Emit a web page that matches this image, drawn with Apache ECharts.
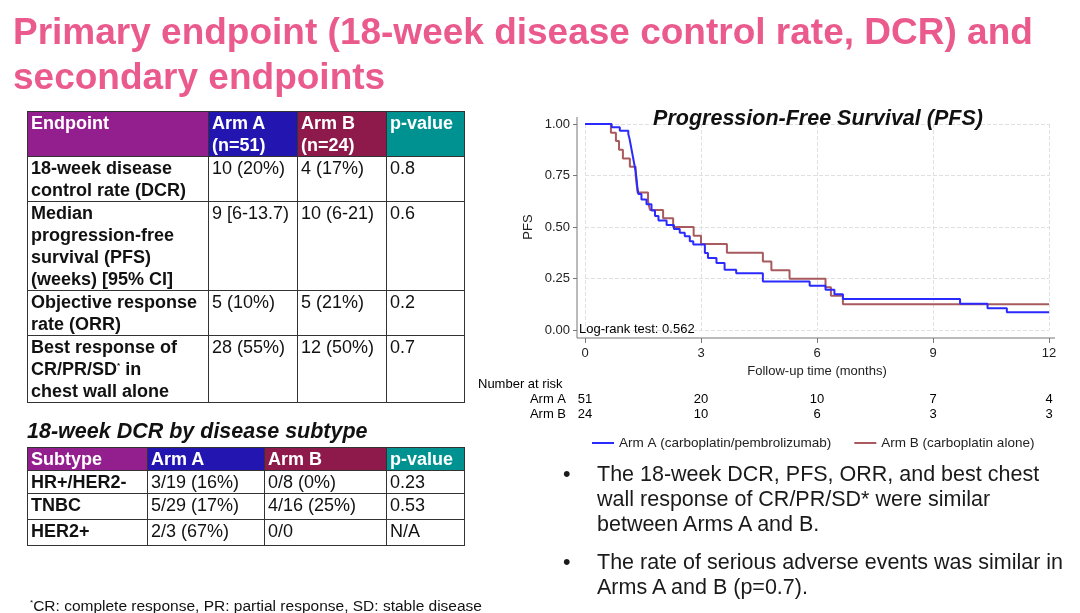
<!DOCTYPE html>
<html>
<head>
<meta charset="utf-8">
<script src="https://cdn.jsdelivr.net/npm/echarts@6/dist/echarts.min.js"></script>
<style>
  html, body { margin: 0; padding: 0; background: #fff; }
  body { width: 1080px; height: 613px; position: relative; overflow: hidden; font-family: "Liberation Sans", Arial, sans-serif; }
  #chart { position: absolute; left: 0; top: 0; width: 1080px; height: 613px; }
  .title { position: absolute; left: 13px; top: 9px; color: #ea5a8c; font-weight: bold; font-size: 37px; line-height: 45px; }
  table { position: absolute; border-collapse: collapse; font-size: 18px; line-height: 22px; color: #111; }
  td { border: 1.5px solid #333; vertical-align: top; padding: 0 3px; }
  th { text-align: left; vertical-align: top; color: #fff; padding: 0 3px; font-weight: bold; border: 1.5px solid #333; }
  .b { font-weight: bold; }
  .c1 { background: #931f8e; }
  .c2 { background: #2316b0; }
  .c3 { background: #8e1a4c; }
  .c4 { background: #009290; }
  .sub { position: absolute; left: 27px; top: 419px; font-size: 21.5px; font-weight: bold; font-style: italic; color: #111; }
  .foot { position: absolute; left: 30px; top: 597px; font-size: 15.5px; color: #111; }
  .bul { position: absolute; left: 563px; font-size: 21.5px; line-height: 25px; color: #1a1a1a; }
  .bul span.dot { position: absolute; left: 0; }
  .bul div { margin-left: 34px; }
</style>
</head>
<body>
<div id="chart"></div>

<div class="title">Primary endpoint (18-week disease control rate, DCR) and<br>secondary endpoints</div>

<table style="left:27px; top:111px; width:438px;">
  <tr style="height:44px">
    <th class="c1" style="width:174px">Endpoint</th>
    <th class="c2" style="width:82px">Arm A<br>(n=51)</th>
    <th class="c3" style="width:82px">Arm B<br>(n=24)</th>
    <th class="c4">p-value</th>
  </tr>
  <tr style="height:44px">
    <td class="b">18-week disease<br>control rate (DCR)</td><td>10 (20%)</td><td>4 (17%)</td><td>0.8</td>
  </tr>
  <tr style="height:89px">
    <td class="b">Median<br>progression-free<br>survival (PFS)<br>(weeks) [95% CI]</td><td>9 [6-13.7)</td><td>10 (6-21)</td><td>0.6</td>
  </tr>
  <tr style="height:45px">
    <td class="b">Objective response<br>rate (ORR)</td><td>5 (10%)</td><td>5 (21%)</td><td>0.2</td>
  </tr>
  <tr style="height:67px">
    <td class="b">Best response of<br>CR/PR/SD<sup style="font-size:8px;line-height:0">*</sup> in<br>chest wall alone</td><td>28 (55%)</td><td>12 (50%)</td><td>0.7</td>
  </tr>
</table>

<div class="sub">18-week DCR by disease subtype</div>

<table style="left:27px; top:447px; width:438px;">
  <tr style="height:21px">
    <th class="c1" style="width:113px">Subtype</th>
    <th class="c2" style="width:110px">Arm A</th>
    <th class="c3" style="width:115px">Arm B</th>
    <th class="c4">p-value</th>
  </tr>
  <tr style="height:23px"><td class="b">HR+/HER2-</td><td>3/19 (16%)</td><td>0/8 (0%)</td><td>0.23</td></tr>
  <tr style="height:26px"><td class="b">TNBC</td><td>5/29 (17%)</td><td>4/16 (25%)</td><td>0.53</td></tr>
  <tr style="height:26px"><td class="b">HER2+</td><td>2/3 (67%)</td><td>0/0</td><td>N/A</td></tr>
</table>

<div class="foot"><sup style="font-size:8px">*</sup>CR: complete response, PR: partial response, SD: stable disease</div>

<div class="bul" style="top:462px;"><span class="dot">•</span><div>The 18-week DCR, PFS, ORR, and best chest<br>wall response of CR/PR/SD* were similar<br>between Arms A and B.</div></div>
<div class="bul" style="top:550px;"><span class="dot">•</span><div>The rate of serious adverse events was similar in<br>Arms A and B (p=0.7).</div></div>

<script>
// Kaplan-Meier steps: [months, survival after drop]
var armA = [[0,1],[0.69,0.984],[0.90,0.967],[1.12,0.951],[1.15,0.93],[1.17,0.91],[1.19,0.89],[1.21,0.87],
    [1.23,0.85],[1.25,0.83],[1.27,0.81],[1.29,0.79],[1.31,0.77],[1.33,0.74],[1.35,0.70],[1.38,0.66],
    [1.46,0.634],[1.59,0.61],[1.72,0.58],[1.81,0.553],[1.90,0.532],[2.11,0.51],[2.30,0.49],[2.45,0.472],
    [2.58,0.455],[2.71,0.431],[2.80,0.415],[3.10,0.374],[3.18,0.35],[3.40,0.325],[3.61,0.293],[3.91,0.276],
    [4.60,0.236],[5.81,0.215],[6.22,0.195],[6.45,0.174],[6.67,0.15],[9.70,0.127],[10.41,0.106],[10.91,0.086],[12,0.086]];
var armB = [[0,1],[0.67,0.958],[0.80,0.917],[0.88,0.875],[0.98,0.833],[1.16,0.792],[1.31,0.75],[1.36,0.667],
    [1.63,0.625],[1.68,0.583],[2.02,0.542],[2.28,0.50],[2.81,0.458],[3.00,0.417],[3.67,0.375],[4.60,0.333],
    [4.82,0.29],[5.29,0.249],[6.22,0.208],[6.36,0.166],[6.67,0.125],[12,0.125]];

var riskTimes = [0, 3, 6, 9, 12];
var riskA = [51, 20, 10, 7, 4];
var riskB = [24, 10, 6, 3, 3];

var nameA = 'Arm A (carboplatin/pembrolizumab)';
var nameB = 'Arm B (carboplatin alone)';

var dom = document.getElementById("chart");
var myChart = echarts.init(dom);
var txt = { fontFamily: 'Liberation Sans, Arial', fontSize: 13, color: '#222' };
var axisCol = '#777';
var option = {
    animation: false,
    title: {
        text: 'Progression-Free Survival (PFS)',
        left: 813, top: 103, textAlign: 'center',
        textStyle: { fontFamily: 'Liberation Sans, Arial', fontSize: 21.5, fontWeight: 'bold', fontStyle: 'italic', color: '#111' }
    },
    grid: { left: 585, top: 124, width: 464, height: 206 },
    xAxis: {
        type: 'value', min: 0, max: 12, interval: 3, offset: 8,
        name: 'Follow-up time (months)', nameLocation: 'middle', nameGap: 27,
        nameTextStyle: txt,
        axisLine: { show: false, onZero: false },
        axisTick: { show: true, length: 5, lineStyle: { color: axisCol } },
        axisLabel: Object.assign({ margin: 9 }, txt),
        splitLine: { show: true, lineStyle: { type: 'dashed', color: '#e0e0e0' } }
    },
    yAxis: {
        type: 'value', min: 0, max: 1, interval: 0.25, offset: 8,
        name: 'PFS', nameLocation: 'middle', nameGap: 42, nameRotate: 90,
        nameTextStyle: txt,
        axisLine: { show: false, onZero: false },
        axisTick: { show: true, length: 4, lineStyle: { color: axisCol } },
        axisLabel: Object.assign({ margin: 7, formatter: function (v) { return v.toFixed(2); } }, txt),
        splitLine: { show: true, lineStyle: { type: 'dashed', color: '#e0e0e0' } }
    },
    legend: {
        left: 587, top: 431, icon: 'rect', itemWidth: 22, itemHeight: 2, itemGap: 23,
        textStyle: Object.assign({}, txt, { fontSize: 13.5 }),
        data: [nameA, nameB]
    },
    series: [
        { name: nameB, type: 'line', step: 'end', symbol: 'none', data: armB, color: '#a85a5e', lineStyle: { width: 2 }, z: 2 },
        { name: nameA, type: 'line', step: 'end', symbol: 'none', data: armA, color: '#2a2aff', lineStyle: { width: 2 }, z: 3 }
    ]
};
if (option && typeof option === "object") {
    myChart.setOption(option, true);
}

// Stata-style axis frame (offset from the plot region), risk table, log-rank note
var p0 = myChart.convertToPixel({ gridIndex: 0 }, [0, 0]);
var p1 = myChart.convertToPixel({ gridIndex: 0 }, [12, 1]);
var ax = p0[0] - 8, ay = p0[1] + 8;
var g = [
    { type: 'line', shape: { x1: ax, y1: p1[1] - 7, x2: ax, y2: ay }, style: { stroke: axisCol, lineWidth: 1 } },
    { type: 'line', shape: { x1: ax, y1: ay, x2: p1[0] + 6, y2: ay }, style: { stroke: axisCol, lineWidth: 1 } },
    { type: 'text', left: 579, top: 323, style: Object.assign({ text: 'Log-rank test: 0.562' }, txt), z: 10 },
    { type: 'text', left: 478, top: 378, style: Object.assign({ text: 'Number at risk' }, txt) },
    { type: 'text', x: 566, y: 399, style: Object.assign({ text: 'Arm A', align: 'right', verticalAlign: 'middle' }, txt) },
    { type: 'text', x: 566, y: 414, style: Object.assign({ text: 'Arm B', align: 'right', verticalAlign: 'middle' }, txt) }
];
for (var i = 0; i < riskTimes.length; i++) {
    var px = myChart.convertToPixel({ xAxisIndex: 0 }, riskTimes[i]);
    g.push({ type: 'text', x: px, y: 399, style: Object.assign({ text: String(riskA[i]), align: 'center', verticalAlign: 'middle' }, txt) });
    g.push({ type: 'text', x: px, y: 414, style: Object.assign({ text: String(riskB[i]), align: 'center', verticalAlign: 'middle' }, txt) });
}
myChart.setOption({ graphic: g });
</script>
</body>
</html>
